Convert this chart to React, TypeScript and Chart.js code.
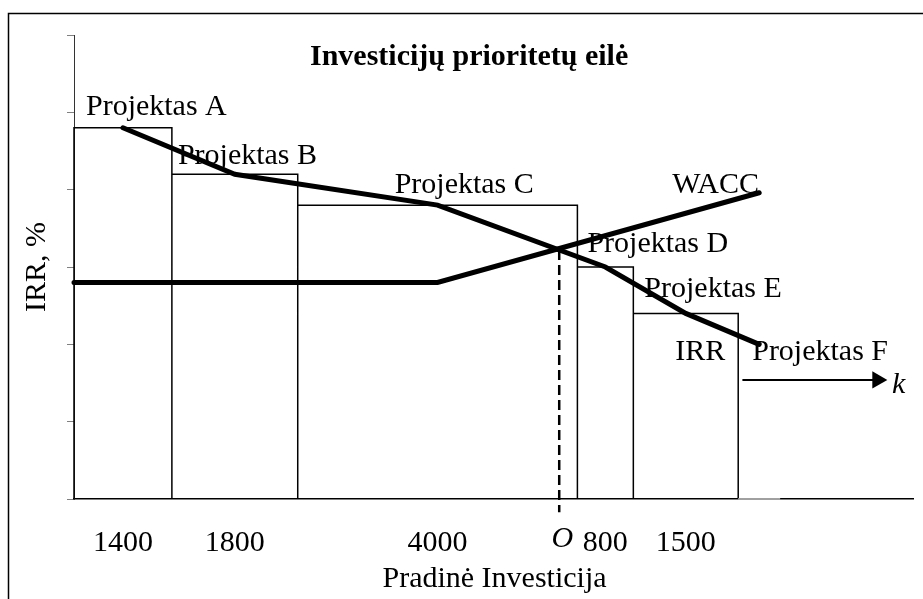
import React, { useEffect, useRef } from 'react';
import { Chart, registerables } from 'chart.js';

Chart.register(...registerables);

// ---- data ----
const projects = ['Projektas A', 'Projektas B', 'Projektas C', 'Projektas D', 'Projektas E', 'Projektas F'];
const investments = [1400, 1800, 4000, 800, 1500, 600];
const investmentLabels = ['1400', '1800', '4000', '800', '1500'];
const barIrr = [24, 21, 19, 15, 12, 0];
const irrLine = [24, 21, 19, 15, 12, 10];
const waccX = [0, 5200, 9800];
const waccY = [14, 14, 19.8];
const optimumX = 6940;
const optimumY = [16.1, -0.85];
const yTicks = [0, 5, 10, 15, 20, 25, 30];
const xMax = 12000;
const kArrowX = [9560, 11490];
const kArrowY = 7.7;

// annotation anchors in data space
const projectLabelX = [171, 1486, 4586, 7343, 8157, 9700];
const projectLabelY = [24.83, 21.66, 19.78, 15.97, 13.06, 8.99];

const starts: number[] = [];
investments.reduce((acc, v) => { starts.push(acc); return acc + v; }, 0);
const ends = starts.map((s, i) => s + investments[i]);
const centers = starts.map((s, i) => s + investments[i] / 2);

const FONT = '"Liberation Serif", "Times New Roman", serif';

const textPlugin = {
  id: 'textPlugin',
  beforeDraw(chart: any) {
    const ctx = chart.ctx;
    ctx.save();
    ctx.fillStyle = '#fff';
    ctx.fillRect(0, 0, chart.width, chart.height);
    ctx.strokeStyle = '#000';
    ctx.lineWidth = 1.5;
    ctx.strokeRect(8.5, 13.5, 2000, 2000);
    ctx.restore();
  },
  afterDatasetsDraw(chart: any) {
    const ctx = chart.ctx;
    const xs = chart.scales.x;
    const ys = chart.scales.y;
    ctx.save();
    ctx.fillStyle = '#000';
    ctx.textBaseline = 'alphabetic';
    ctx.textAlign = 'left';
    // title
    ctx.font = `bold 30px ${FONT}`;
    ctx.fillText('Investicijų prioritetų eilė', 310, 65);
    // project labels
    ctx.font = `30px ${FONT}`;
    projects.forEach((p, i) => {
      ctx.fillText(p, xs.getPixelForValue(projectLabelX[i]), ys.getPixelForValue(projectLabelY[i]));
    });
    ctx.fillText('WACC', xs.getPixelForValue(8557), ys.getPixelForValue(19.78));
    ctx.fillText('IRR', xs.getPixelForValue(8600), ys.getPixelForValue(8.99));
    // x axis title
    ctx.textAlign = 'center';
    ctx.fillText('Pradinė Investicija', (xs.left + xs.right) / 2 + 1, 587);
    // italic k and O
    ctx.font = `italic 30px ${FONT}`;
    ctx.textAlign = 'left';
    ctx.fillText('k', xs.getPixelForValue(11700), ys.getPixelForValue(6.85));
    ctx.textAlign = 'center';
    ctx.fillText('O', xs.getPixelForValue(optimumX) + 3, ys.getPixelForValue(-3.1));
    // y axis title
    ctx.font = `30px ${FONT}`;
    ctx.translate(45, (ys.top + ys.bottom) / 2);
    ctx.rotate(-Math.PI / 2);
    ctx.textAlign = 'center';
    ctx.fillText('IRR, %', 0, 0);
    ctx.restore();
  },
};

export default function App() {
  const ref = useRef<HTMLCanvasElement>(null);
  useEffect(() => {
    if (!ref.current) return;
    const barPts: { x: number; y: number }[] = [];
    barIrr.forEach((h, i) => {
      if (h <= 0) return;
      barPts.push({ x: starts[i], y: 0 }, { x: starts[i], y: h }, { x: ends[i], y: h }, { x: ends[i], y: 0 });
    });
    const zeroBars: { x: number; y: number }[] = [];
    barIrr.forEach((h, i) => {
      if (h > 0) return;
      zeroBars.push({ x: starts[i], y: 0 }, { x: ends[i], y: 0 });
    });
    const chart = new Chart(ref.current, {
      type: 'line',
      data: {
        datasets: [
          {
            label: 'IRR',
            data: centers.map((c, i) => ({ x: c, y: irrLine[i] })),
            borderColor: '#000',
            borderWidth: 5,
            borderCapStyle: 'round',
            order: 1,
            clip: false,
          } as any,
          {
            label: 'WACC',
            data: waccX.map((x, i) => ({ x, y: waccY[i] })),
            borderColor: '#000',
            borderWidth: 5,
            borderCapStyle: 'round',
            order: 1,
            clip: false,
          },
          {
            label: 'Optimum',
            data: optimumY.map((y) => ({ x: optimumX, y })),
            borderColor: '#000',
            borderWidth: 2.5,
            borderDash: [10, 5],
            order: 2,
            clip: false,
          },
          {
            label: 'k',
            data: kArrowX.map((x) => ({ x, y: kArrowY })),
            borderColor: '#000',
            borderWidth: 2,
            pointRadius: [0, 10],
            pointStyle: 'triangle',
            pointRotation: 90,
            pointBackgroundColor: '#000',
            pointBorderColor: '#000',
            pointBorderWidth: 0,
            order: 2,
            clip: false,
          } as any,
          {
            label: 'Bars',
            data: barPts,
            borderColor: '#000',
            borderWidth: 1.5,
            order: 5,
            clip: false,
          },
          {
            label: 'Zero bar',
            data: zeroBars,
            borderColor: '#a0a0a0',
            borderWidth: 2,
            order: 4,
            clip: false,
          },
        ],
      },
      options: {
        animation: false,
        responsive: false,
        maintainAspectRatio: false,
        events: [],
        layout: { padding: { left: 67, right: 9, top: 35, bottom: 0 } },
        elements: { point: { radius: 0 }, line: { tension: 0, fill: false } },
        plugins: { legend: { display: false }, title: { display: false }, tooltip: { enabled: false } },
        scales: {
          x: {
            type: 'linear',
            min: 0,
            max: xMax,
            afterFit: (s: any) => { s.height = 100; },
            afterBuildTicks: (s: any) => { s.ticks = centers.slice(0, investmentLabels.length).map((v) => ({ value: v })); },
            grid: { display: false, drawTicks: false },
            border: { display: true, color: '#000', width: 1.5 },
            ticks: {
              autoSkip: false,
              maxRotation: 0,
              padding: 26,
              color: '#000',
              font: { family: FONT, size: 30 },
              callback: (_v: any, i: number) => investmentLabels[i],
            },
          },
          y: {
            type: 'linear',
            min: 0,
            max: 30,
            afterFit: (s: any) => { s.width = 7; },
            afterBuildTicks: (s: any) => { s.ticks = yTicks.map((v) => ({ value: v })); },
            grid: { display: true, drawOnChartArea: false, drawTicks: true, tickLength: 7, color: '#808080', lineWidth: 1 },
            border: { display: true, color: '#333', width: 1 },
            ticks: { display: false },
          },
        },
      } as any,
      plugins: [textPlugin],
    });
    return () => chart.destroy();
  }, []);
  return (
    <div style={{ position: 'fixed', left: 0, top: 0, width: 923, height: 599, background: '#fff' }}>
      <canvas ref={ref} width={923} height={599} style={{ display: 'block', width: 923, height: 599 }} />
    </div>
  );
}
